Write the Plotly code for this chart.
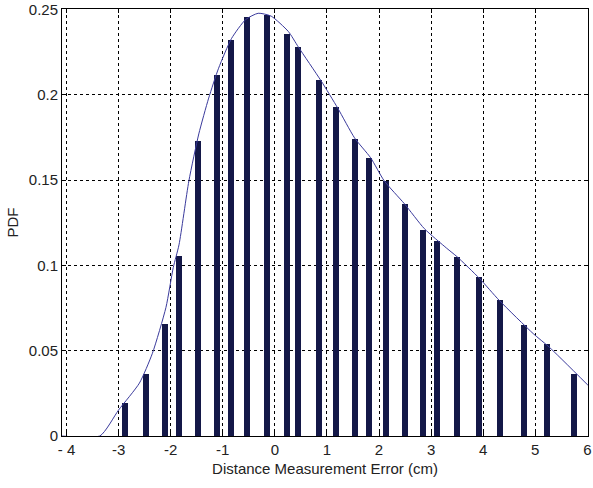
import plotly.graph_objects as go

# Histogram bins (bin centre, cm) and their PDF heights
bin_centres = [-2.87, -2.47, -2.10, -1.84, -1.48, -1.11, -0.85, -0.54, -0.16,
               0.24, 0.45, 0.85, 1.17, 1.53, 1.80, 2.14, 2.49, 2.85, 3.11,
               3.50, 3.91, 4.33, 4.79, 5.23, 5.74]
bin_pdf = [0.0193, 0.0362, 0.0654, 0.1057, 0.1729, 0.2114, 0.2319, 0.2453, 0.2465,
           0.2354, 0.2278, 0.2085, 0.1928, 0.1740, 0.1630, 0.1495, 0.1360, 0.1210,
           0.1145, 0.1051, 0.0929, 0.0794, 0.0648, 0.0537, 0.0362]

# Fitted density curve
fit_x = [-4.09, -3.36, -3.00, -2.60, -2.35, -2.09, -1.95, -1.84, -1.65, -1.46,
         -1.27, -1.08, -0.83, -0.56, -0.32, -0.07, 0.26, 0.45, 0.89, 1.21, 1.53,
         1.84, 2.10, 2.49, 2.87, 3.30, 3.50, 3.93, 4.31, 4.96, 5.27, 6.01]
fit_y = [0.0, 0.0, 0.0152, 0.031, 0.0485, 0.0754, 0.0987, 0.112, 0.1495, 0.177,
         0.198, 0.2155, 0.233, 0.244, 0.2477, 0.246, 0.237, 0.228, 0.208, 0.192,
         0.1747, 0.163, 0.1495, 0.136, 0.1215, 0.110, 0.105, 0.0923, 0.0794,
         0.060, 0.052, 0.0298]

x_ticks = [-4, -3, -2, -1, 0, 1, 2, 3, 4, 5, 6]
x_tick_text = ["- 4", "-3", "-2", "-1", "0", "1", "2", "3", "4", "5", "6"]
y_ticks = [0, 0.05, 0.1, 0.15, 0.2, 0.25]
y_tick_text = ["0", "0.05", "0.1", "0.15", "0.2", "0.25"]

FONT = "Liberation Sans, Arial, sans-serif"

fig = go.Figure()
fig.add_trace(go.Bar(
    x=bin_centres, y=bin_pdf, width=0.115,
    marker=dict(color="#141848", line=dict(width=0)),
    showlegend=False,
))
fig.add_trace(go.Scatter(
    x=fit_x, y=fit_y, mode="lines",
    line=dict(color="#3a3a9c", width=1, shape="spline", smoothing=0.6),
    showlegend=False,
))

axis_common = dict(
    showline=True, linecolor="black", linewidth=1, mirror="ticks",
    ticks="inside", ticklen=4, tickcolor="black",
    showgrid=True, gridcolor="black", gridwidth=1, griddash="3px,3px",
    zeroline=False, ticklabeloverflow="allow",
    tickfont=dict(family=FONT, size=15, color="#222222"),
)

fig.update_layout(
    width=593, height=488,
    margin=dict(l=62, r=1, t=8, b=52),
    paper_bgcolor="white", plot_bgcolor="white",
    bargap=0,
    xaxis=dict(
        range=[-4.086, 6.012], tickvals=x_ticks, ticktext=x_tick_text,
        title=dict(text="Distance Measurement Error (cm)", standoff=6,
                   font=dict(family=FONT, size=15, color="#222222")),
        **axis_common,
    ),
    yaxis=dict(
        range=[0, 0.2502], tickvals=y_ticks, ticktext=y_tick_text,
        title=dict(text="PDF", standoff=6,
                   font=dict(family=FONT, size=15, color="#222222")),
        **axis_common,
    ),
)

fig.write_html("out.html")
